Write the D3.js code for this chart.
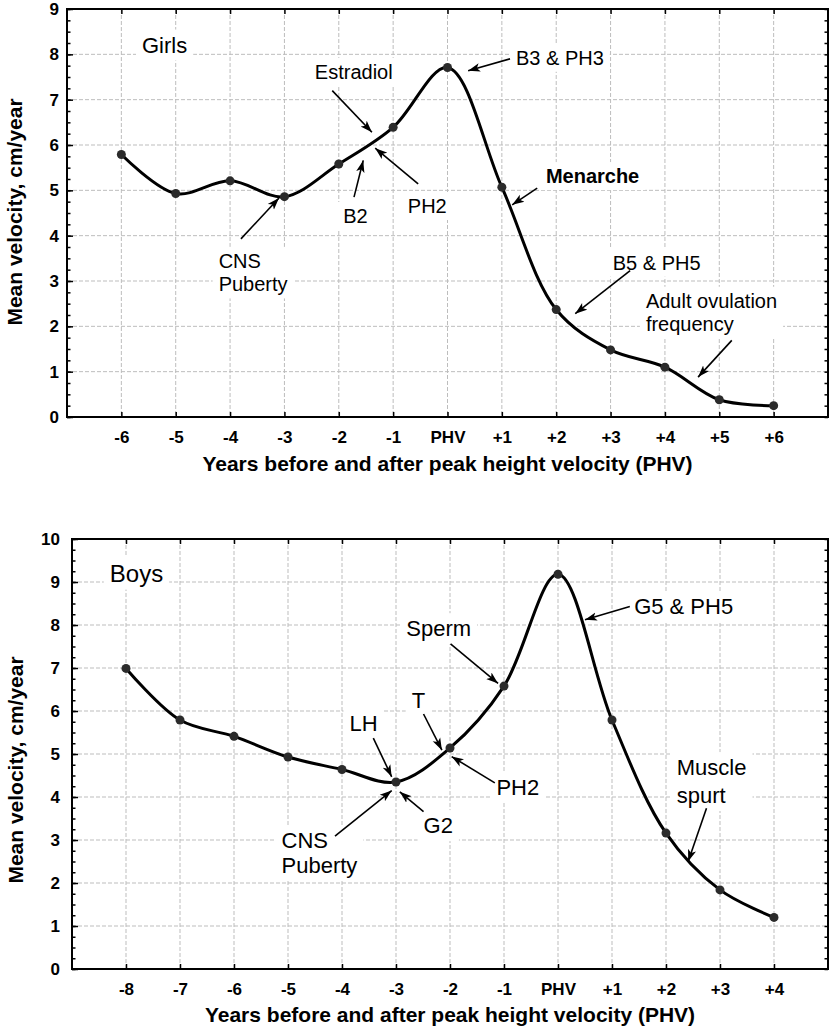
<!DOCTYPE html>
<html>
<head>
<meta charset="utf-8">
<script src="https://cdn.jsdelivr.net/npm/d3@7"></script>
<style>
  body { margin: 0; background: #fff; }
  svg { display: block; font-family: "Liberation Sans", Arial, Helvetica, sans-serif; }
</style>
</head>
<body>
<svg id="chart" width="830" height="1032"></svg>
<script>
// data
var girlsYears = [-6, -5, -4, -3, -2, -1, 0, 1, 2, 3, 4, 5, 6];
var girlsVelocity = [5.79, 4.93, 5.21, 4.86, 5.58, 6.39, 7.71, 5.07, 2.37, 1.48, 1.1, 0.38, 0.25];
var girlsTickLabels = ['-6', '-5', '-4', '-3', '-2', '-1', 'PHV', '+1', '+2', '+3', '+4', '+5', '+6'];

var boysYears = [-8, -7, -6, -5, -4, -3, -2, -1, 0, 1, 2, 3, 4];
var boysVelocity = [6.99, 5.79, 5.41, 4.93, 4.64, 4.35, 5.14, 6.58, 9.18, 5.79, 3.16, 1.84, 1.2];
var boysTickLabels = ['-8', '-7', '-6', '-5', '-4', '-3', '-2', '-1', 'PHV', '+1', '+2', '+3', '+4'];

var xTitle = 'Years before and after peak height velocity (PHV)';
var yTitle = 'Mean velocity, cm/year';

// annotations, in data units (x = years, y = cm/year)
var girlsNotes = [
    {lines: ['Girls'], x: -5.62, y: [8.04], big: true},
    {lines: ['Estradiol'], x: -2.44, y: [7.46], from: [-2.12, 7.2], to: [-1.39, 6.28]},
    {lines: ['B2'], x: -1.92, y: [4.28], from: [-1.72, 4.85], to: [-1.55, 5.66]},
    {lines: ['PH2'], x: -0.73, y: [4.5], from: [-0.54, 5.14], to: [-1.33, 5.93]},
    {lines: ['CNS', 'Puberty'], x: -4.21, y: [3.29, 2.77], from: [-3.8, 3.93], to: [-3.1, 4.83]},
    {lines: ['B3 & PH3'], x: 1.26, y: [7.77], from: [1.15, 7.9], to: [0.38, 7.64]},
    {lines: ['Menarche'], x: 1.81, y: [5.16], from: [1.65, 5.05], to: [1.19, 4.68], bold: true},
    {lines: ['B5 & PH5'], x: 3.04, y: [3.25], from: [3.36, 3.23], to: [2.35, 2.28]},
    {lines: ['Adult ovulation', 'frequency'], x: 3.65, y: [2.41, 1.89], from: [5.23, 1.69], to: [4.61, 0.88]}
];

var boysNotes = [
    {lines: ['Boys'], x: -8.3, y: [9.01], big: true},
    {lines: ['Sperm'], x: -2.81, y: [7.74], from: [-1.99, 7.56], to: [-1.11, 6.64]},
    {lines: ['G5 & PH5'], x: 1.41, y: [8.25], from: [1.33, 8.43], to: [0.5, 8.12]},
    {lines: ['T'], x: -2.71, y: [6.06], from: [-2.49, 5.93], to: [-2.15, 5.09]},
    {lines: ['PH2'], x: -1.14, y: [4.05], from: [-1.17, 4.33], to: [-1.97, 4.94]},
    {lines: ['LH'], x: -3.86, y: [5.54], from: [-3.42, 5.37], to: [-3.08, 4.47]},
    {lines: ['G2'], x: -2.49, y: [3.16], from: [-2.49, 3.66], to: [-2.93, 4.12]},
    {lines: ['CNS', 'Puberty'], x: -5.12, y: [2.81, 2.23], from: [-4.13, 3.09], to: [-3.08, 4.15]},
    {lines: ['Muscle', 'spurt'], x: 2.2, y: [4.51, 3.86], from: [2.75, 3.74], to: [2.41, 2.5]}
];

var svg = d3.select('#chart');

svg.append('defs').append('marker')
    .attr('id', 'arrow')
    .attr('viewBox', '0 -5 12 10')
    .attr('refX', 12)
    .attr('refY', 0)
    .attr('markerUnits', 'userSpaceOnUse')
    .attr('markerWidth', 12)
    .attr('markerHeight', 10)
    .attr('orient', 'auto')
    .append('path')
    .attr('d', 'M0,-4.2L12,0L0,4.2L3,0Z')
    .attr('fill', '#000');

function drawPanel(cfg) {
    var g = svg.append('g');
    var x = d3.scaleLinear().domain(cfg.xDomain).range([cfg.left, cfg.right]);
    var y = d3.scaleLinear().domain([0, cfg.yMax]).range([cfg.bottom, cfg.top]);
    var majors = d3.range(0, cfg.yMax + 1);
    var minors = d3.range(0, cfg.yMax + 0.001, 0.25);

    // grid
    var grid = g.append('g')
        .attr('stroke', '#bdbdbd')
        .attr('stroke-width', 1)
        .attr('stroke-dasharray', '4,2');
    grid.selectAll('.vg').data(cfg.years).enter().append('line')
        .attr('x1', function (d) { return x(d); })
        .attr('x2', function (d) { return x(d); })
        .attr('y1', cfg.top)
        .attr('y2', cfg.bottom);
    grid.selectAll('.hg').data(majors.slice(1, -1)).enter().append('line')
        .attr('x1', cfg.left)
        .attr('x2', cfg.right)
        .attr('y1', function (d) { return y(d); })
        .attr('y2', function (d) { return y(d); });

    var bgLayer = g.append('g');

    // axes
    var fontTick = cfg.tickFont + 'px';
    var xAxis = g.append('g')
        .attr('transform', 'translate(0,' + cfg.bottom + ')')
        .call(d3.axisBottom(x).tickValues(cfg.years)
            .tickFormat(function (d, i) { return cfg.labels[i]; })
            .tickSize(-5).tickPadding(14));
    var topAxis = g.append('g')
        .attr('transform', 'translate(0,' + cfg.top + ')')
        .call(d3.axisTop(x).tickValues(cfg.years).tickFormat('').tickSize(-5));
    var leftAxis = g.append('g')
        .attr('transform', 'translate(' + cfg.left + ',0)')
        .call(d3.axisLeft(y).tickValues(majors).tickFormat(d3.format('d'))
            .tickSize(-6).tickPadding(cfg.yPad));
    var leftMinor = g.append('g')
        .attr('transform', 'translate(' + cfg.left + ',0)')
        .call(d3.axisLeft(y).tickValues(minors).tickFormat('').tickSize(-3.5));
    var rightMinor = g.append('g')
        .attr('transform', 'translate(' + cfg.right + ',0)')
        .call(d3.axisRight(y).tickValues(minors).tickFormat('').tickSize(-3.5));

    [xAxis, topAxis, leftAxis, leftMinor, rightMinor].forEach(function (a) {
        a.select('.domain').remove();
        a.selectAll('.tick line').attr('stroke', '#000').attr('stroke-width', 1.5);
        a.selectAll('.tick text')
            .attr('fill', '#000')
            .style('font-family', '"Liberation Sans", Arial, sans-serif')
            .style('font-size', fontTick)
            .style('font-weight', 'bold');
    });

    g.append('rect')
        .attr('x', cfg.left)
        .attr('y', cfg.top)
        .attr('width', cfg.right - cfg.left)
        .attr('height', cfg.bottom - cfg.top)
        .attr('fill', 'none')
        .attr('stroke', '#000')
        .attr('stroke-width', 2);

    // axis titles
    g.append('text')
        .attr('x', (cfg.left + cfg.right) / 2)
        .attr('y', cfg.xTitleY)
        .attr('text-anchor', 'middle')
        .style('font-size', '21px')
        .style('font-weight', 'bold')
        .text(xTitle);
    g.append('text')
        .attr('transform', 'translate(' + cfg.yTitleX + ',' + cfg.yTitleMid + ') rotate(-90)')
        .attr('text-anchor', 'middle')
        .style('font-size', '21px')
        .style('font-weight', 'bold')
        .text(yTitle);

    // curve
    var pts = cfg.years.map(function (d, i) { return [d, cfg.values[i]]; });
    var line = d3.line()
        .x(function (d) { return x(d[0]); })
        .y(function (d) { return y(d[1]); })
        .curve(d3.curveCatmullRom.alpha(0.5));
    g.append('path')
        .datum(pts)
        .attr('d', line)
        .attr('fill', 'none')
        .attr('stroke', '#000')
        .attr('stroke-width', 3);
    g.selectAll('.pt').data(pts).enter().append('circle')
        .attr('cx', function (d) { return x(d[0]); })
        .attr('cy', function (d) { return y(d[1]); })
        .attr('r', 4.5)
        .attr('fill', '#2b2b2b');

    // annotations
    cfg.notes.forEach(function (n) {
        if (n.from) {
            g.append('line')
                .attr('x1', x(n.from[0]))
                .attr('y1', y(n.from[1]))
                .attr('x2', x(n.to[0]))
                .attr('y2', y(n.to[1]))
                .attr('stroke', '#000')
                .attr('stroke-width', 1.6)
                .attr('marker-end', 'url(#arrow)');
        }
        var t = g.append('text')
            .style('font-size', (n.big ? cfg.bigFont : cfg.noteFont) + 'px')
            .style('font-weight', n.bold ? 'bold' : 'normal')
            .attr('fill', '#000');
        n.lines.forEach(function (s, i) {
            t.append('tspan')
                .attr('x', x(n.x))
                .attr('y', y(n.y[i]))
                .text(s);
        });
        var b = t.node().getBBox();
        bgLayer.append('rect')
            .attr('x', b.x - 6)
            .attr('y', b.y - 3)
            .attr('width', b.width + 12)
            .attr('height', b.height + 6)
            .attr('fill', '#fff');
    });
}

drawPanel({
    years: girlsYears, values: girlsVelocity, labels: girlsTickLabels, notes: girlsNotes,
    xDomain: [-7, 7], yMax: 9,
    left: 67, right: 828, top: 9, bottom: 417,
    yPad: 8, tickFont: 17, noteFont: 20, bigFont: 22,
    xTitleY: 471, yTitleX: 22, yTitleMid: 212
});

drawPanel({
    years: boysYears, values: boysVelocity, labels: boysTickLabels, notes: boysNotes,
    xDomain: [-9, 5], yMax: 10,
    left: 72, right: 828, top: 539, bottom: 969,
    yPad: 12, tickFont: 17, noteFont: 22, bigFont: 24,
    xTitleY: 1022, yTitleX: 23, yTitleMid: 770
});
</script>
</body>
</html>
